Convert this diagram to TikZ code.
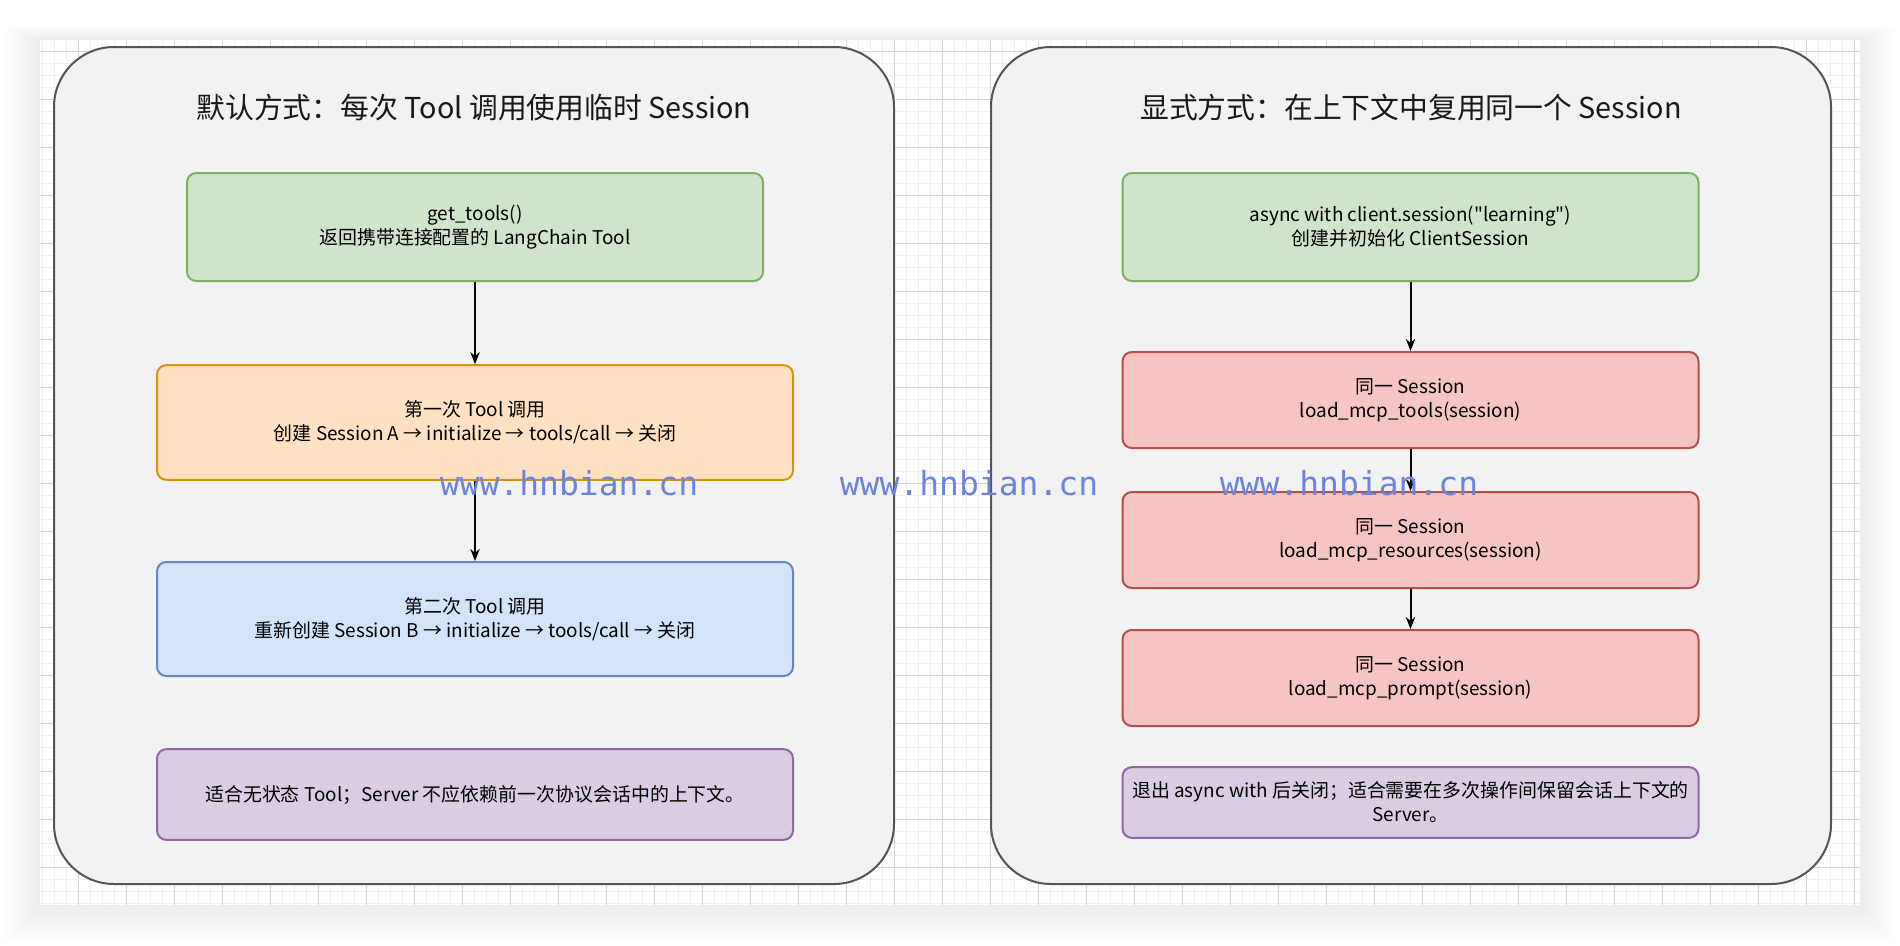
\documentclass[tikz,border=0pt]{standalone}
\usepackage{fontspec}
\setmainfont{Noto Sans CJK SC}
\newfontfamily\wmfont{DejaVu Sans Mono}
\usetikzlibrary{arrows.meta}

\definecolor{gridminor}{HTML}{EFEFEF}
\definecolor{gridmajor}{HTML}{D5D5D5}
\definecolor{panelfill}{HTML}{F2F2F2}
\definecolor{panelline}{HTML}{555555}
\definecolor{greenfill}{HTML}{D0E4CC}
\definecolor{greenline}{HTML}{7DB062}
\definecolor{orangefill}{HTML}{FEE0C2}
\definecolor{orangeline}{HTML}{D6950A}
\definecolor{bluefill}{HTML}{D3E3FA}
\definecolor{blueline}{HTML}{6685BE}
\definecolor{purplefill}{HTML}{DACCE2}
\definecolor{purpleline}{HTML}{8F68A2}
\definecolor{redfill}{HTML}{F5C4C3}
\definecolor{redline}{HTML}{B3504D}
\definecolor{wmblue}{HTML}{6E84DC}

\tikzset{
  panel/.style={draw=panelline, fill=panelfill, line width=1.5pt, rounded corners=45pt},
  paneltitle/.style={font=\fontsize{21.6}{26}\selectfont, text=black!90},
  stepbox/.style={draw, line width=1.5pt, rounded corners=7pt, align=center,
    inner sep=0pt, font=\fontsize{14.2}{18}\selectfont},
  narrowbox/.style={stepbox, minimum width=432pt},
  widebox/.style={stepbox, minimum width=477pt},
  greenbox/.style={fill=greenfill, draw=greenline},
  orangebox/.style={fill=orangefill, draw=orangeline},
  bluebox/.style={fill=bluefill, draw=blueline},
  purplebox/.style={fill=purplefill, draw=purpleline},
  redbox/.style={fill=redfill, draw=redline, minimum height=72pt},
  flow/.style={-{Stealth[length=9pt,width=7pt]}, line width=1.5pt},
  watermark/.style={font=\wmfont\fontsize{24.75}{28}\selectfont, text=wmblue, anchor=base}
}

\begin{document}
\begin{tikzpicture}[x=0.75pt, y=-0.75pt]
		%%%%% START %%%%%
		\useasboundingbox (0, 0) rectangle (1900, 946);
		\fill[white] (0, 0) rectangle (1900, 946);
		
		% soft shadow round the canvas
		\foreach \s in {2,4,...,36}
			\fill[black, opacity=0.005] (40-\s, 40-0.4*\s) rectangle (1860+\s, 905+1.1*\s);
		
		\begin{scope}
			\clip (40, 40) rectangle (1860, 905);
			\fill[white] (40, 40) rectangle (1860, 905);
			\foreach \gx in {42.7,54.7,...,1866}
				\draw[gridminor, line width=0.75pt] (\gx, 40) -- (\gx, 905);
			\foreach \gy in {39,51,...,910}
				\draw[gridminor, line width=0.75pt] (40, \gy) -- (1860, \gy);
			\foreach \gx in {30.7,78.7,...,1866}
				\draw[gridmajor, line width=0.75pt] (\gx, 40) -- (\gx, 905);
			\foreach \gy in {51,99,...,910}
				\draw[gridmajor, line width=0.75pt] (40, \gy) -- (1860, \gy);
		\end{scope}
		
		% left panel
		\draw[panel] (54, 47) rectangle (894, 884);
		\node[paneltitle] (ltitle) at (474, 108) {默认方式：每次 Tool 调用使用临时 Session};
		
		\node[narrowbox, greenbox, minimum height=81pt] (gettools) at (475, 227)
			{get\_tools()\\返回携带连接配置的 LangChain Tool};
		\node[widebox, orangebox, minimum height=86pt] (firstcall) at (475, 422.5)
			{第一次 Tool 调用\\创建 Session A → initialize → tools/call → 关闭};
		\node[widebox, bluebox, minimum height=85.5pt] (secondcall) at (475, 619)
			{第二次 Tool 调用\\重新创建 Session B → initialize → tools/call → 关闭};
		\node[widebox, purplebox, minimum height=68pt] (lnote) at (475, 794.5)
			{适合无状态 Tool；Server 不应依赖前一次协议会话中的上下文。};
		
		\draw[flow] (gettools) -- (firstcall);
		\draw[flow] (firstcall) -- (secondcall);
		
		% right panel
		\draw[panel] (991, 47) rectangle (1831, 884);
		\node[paneltitle] (rtitle) at (1411, 108) {显式方式：在上下文中复用同一个 Session};
		
		\node[narrowbox, greenbox, minimum height=81pt] (opensession) at (1410.5, 227)
			{async with client.session(\textquotedbl learning\textquotedbl)\\创建并初始化 ClientSession};
		\node[narrowbox, redbox] (loadtools) at (1410.5, 400)
			{同一 Session\\load\_mcp\_tools(session)};
		\node[narrowbox, redbox] (loadres) at (1410.5, 540)
			{同一 Session\\load\_mcp\_resources(session)};
		\node[narrowbox, redbox] (loadprompt) at (1410.5, 678)
			{同一 Session\\load\_mcp\_prompt(session)};
		\node[narrowbox, purplebox, minimum height=53pt] (rnote) at (1410.5, 802.5)
			{退出 async with 后关闭；适合需要在多次操作间保留会话上下文的\\Server。};
		
		\draw[flow] (opensession) -- (loadtools);
		\draw[flow] (loadtools) -- (loadres);
		\draw[flow] (loadres) -- (loadprompt);
		
		% watermark
		\node[watermark] (wm1) at (569, 495) {www.hnbian.cn};
		\node[watermark] (wm2) at (969, 495) {www.hnbian.cn};
		\node[watermark] (wm3) at (1349, 495) {www.hnbian.cn};
		%%%%% END %%%%%
\end{tikzpicture}
\end{document}
